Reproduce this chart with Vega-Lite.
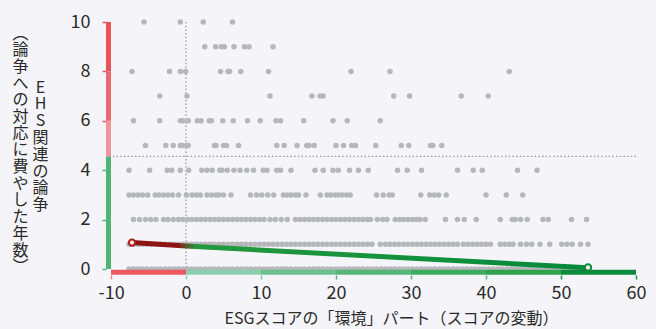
{
 "$schema": "https://vega.github.io/schema/vega-lite/v6.json",
 "width": 525,
 "height": 247,
 "autosize": {"type": "none"},
 "padding": {"left": 111, "top": 22, "right": 20, "bottom": 60},
 "background": "#f5f5f9",
 "config": {"font": "Noto Sans CJK JP", "view": {"stroke": null}},
 "datasets": {
  "pts": [
   {"x":-7.6,"y":0},{"x":-7,"y":0},{"x":-6.4,"y":0},{"x":-5.8,"y":0},{"x":-5.2,"y":0},{"x":-4.6,"y":0},{"x":-4,"y":0},{"x":-3.4,"y":0},{"x":-2.8,"y":0},{"x":-2.2,"y":0},{"x":-1.6,"y":0},{"x":-1,"y":0},{"x":-0.4,"y":0},{"x":0.2,"y":0},{"x":0.8,"y":0},{"x":1.4,"y":0},{"x":2,"y":0},{"x":2.6,"y":0},{"x":3.2,"y":0},{"x":3.8,"y":0},{"x":4.4,"y":0},{"x":5,"y":0},{"x":5.6,"y":0},{"x":6.2,"y":0},{"x":6.8,"y":0},{"x":7.4,"y":0},{"x":8,"y":0},{"x":8.6,"y":0},{"x":9.2,"y":0},{"x":9.8,"y":0},{"x":10.4,"y":0},{"x":11,"y":0},{"x":11.6,"y":0},{"x":12.2,"y":0},{"x":12.8,"y":0},{"x":13.4,"y":0},{"x":14,"y":0},{"x":14.6,"y":0},{"x":15.2,"y":0},{"x":15.8,"y":0},{"x":16.4,"y":0},{"x":17,"y":0},{"x":17.6,"y":0},{"x":18.2,"y":0},{"x":18.8,"y":0},{"x":19.4,"y":0},{"x":20,"y":0},{"x":20.6,"y":0},{"x":21.2,"y":0},{"x":21.8,"y":0},{"x":22.4,"y":0},{"x":23,"y":0},{"x":23.6,"y":0},{"x":24.2,"y":0},{"x":24.8,"y":0},{"x":25.4,"y":0},{"x":26,"y":0},{"x":26.6,"y":0},{"x":27.2,"y":0},{"x":27.8,"y":0},{"x":28.4,"y":0},{"x":29,"y":0},{"x":29.6,"y":0},{"x":30.2,"y":0},{"x":30.8,"y":0},{"x":31.4,"y":0},{"x":32,"y":0},{"x":32.6,"y":0},{"x":33.2,"y":0},{"x":33.8,"y":0},{"x":34.4,"y":0},{"x":35,"y":0},{"x":35.6,"y":0},{"x":36.2,"y":0},{"x":36.8,"y":0},{"x":37.4,"y":0},{"x":38,"y":0},{"x":38.6,"y":0},{"x":39.2,"y":0},{"x":39.8,"y":0},{"x":40.4,"y":0},{"x":41,"y":0},{"x":41.6,"y":0},{"x":42.2,"y":0},{"x":42.8,"y":0},{"x":43.4,"y":0},{"x":44,"y":0},{"x":44.6,"y":0},{"x":45.2,"y":0},{"x":45.8,"y":0},{"x":46.4,"y":0},{"x":47,"y":0},{"x":47.6,"y":0},{"x":48.2,"y":0},{"x":48.8,"y":0},{"x":49.4,"y":0},{"x":50,"y":0},{"x":50.6,"y":0},{"x":51.2,"y":0},{"x":51.8,"y":0},{"x":52.4,"y":0},{"x":53,"y":0},{"x":53.6,"y":0},
   {"x":-7.6,"y":1},{"x":-7,"y":1},{"x":-6.4,"y":1},{"x":-5.8,"y":1},{"x":-5.2,"y":1},{"x":-4.6,"y":1},{"x":-4,"y":1},{"x":-3.4,"y":1},{"x":-2.8,"y":1},{"x":-2.2,"y":1},{"x":-1.6,"y":1},{"x":-1,"y":1},{"x":-0.4,"y":1},{"x":0.2,"y":1},{"x":0.8,"y":1},{"x":1.4,"y":1},{"x":2,"y":1},{"x":2.6,"y":1},{"x":3.2,"y":1},{"x":3.8,"y":1},{"x":4.4,"y":1},{"x":5,"y":1},{"x":5.6,"y":1},{"x":6.2,"y":1},{"x":6.8,"y":1},{"x":7.4,"y":1},{"x":8,"y":1},{"x":8.6,"y":1},{"x":9.2,"y":1},{"x":9.8,"y":1},{"x":10.4,"y":1},{"x":11,"y":1},{"x":11.6,"y":1},{"x":12.2,"y":1},{"x":12.8,"y":1},{"x":13.4,"y":1},{"x":14,"y":1},{"x":14.6,"y":1},{"x":15.2,"y":1},{"x":15.8,"y":1},{"x":16.4,"y":1},{"x":17,"y":1},{"x":17.6,"y":1},{"x":18.2,"y":1},{"x":18.8,"y":1},{"x":19.4,"y":1},{"x":20,"y":1},{"x":20.6,"y":1},{"x":21.2,"y":1},{"x":21.8,"y":1},{"x":22.4,"y":1},{"x":23,"y":1},{"x":23.6,"y":1},{"x":24.2,"y":1},{"x":24.8,"y":1},{"x":25.9,"y":1},{"x":26.6,"y":1},{"x":27.2,"y":1},{"x":27.8,"y":1},{"x":28.4,"y":1},{"x":29,"y":1},{"x":29.6,"y":1},{"x":30.2,"y":1},{"x":30.8,"y":1},{"x":31.4,"y":1},{"x":32,"y":1},{"x":32.6,"y":1},{"x":33.2,"y":1},{"x":33.8,"y":1},{"x":34.4,"y":1},{"x":35,"y":1},{"x":35.6,"y":1},{"x":36.2,"y":1},{"x":37,"y":1},{"x":37.6,"y":1},{"x":38.2,"y":1},{"x":38.8,"y":1},{"x":39.4,"y":1},{"x":40,"y":1},{"x":40.6,"y":1},{"x":41.9,"y":1},{"x":42.5,"y":1},{"x":43.1,"y":1},{"x":43.6,"y":1},{"x":44.6,"y":1},{"x":45.4,"y":1},{"x":46.1,"y":1},{"x":47.2,"y":1},{"x":48.5,"y":1},{"x":50.1,"y":1},{"x":50.8,"y":1},{"x":51.5,"y":1},{"x":52.6,"y":1},{"x":53.6,"y":1},
   {"x":-7,"y":2},{"x":-6.2,"y":2},{"x":-5.4,"y":2},{"x":-4.7,"y":2},{"x":-4,"y":2},{"x":-3,"y":2},{"x":-2.4,"y":2},{"x":-1.7,"y":2},{"x":-1,"y":2},{"x":-0.4,"y":2},{"x":0.2,"y":2},{"x":0.8,"y":2},{"x":1.4,"y":2},{"x":2,"y":2},{"x":2.6,"y":2},{"x":3.2,"y":2},{"x":3.8,"y":2},{"x":4.4,"y":2},{"x":5,"y":2},{"x":5.6,"y":2},{"x":6.2,"y":2},{"x":6.8,"y":2},{"x":7.4,"y":2},{"x":8,"y":2},{"x":8.6,"y":2},{"x":9.2,"y":2},{"x":9.8,"y":2},{"x":10.4,"y":2},{"x":11.2,"y":2},{"x":11.9,"y":2},{"x":12.7,"y":2},{"x":13.5,"y":2},{"x":14.6,"y":2},{"x":15.2,"y":2},{"x":15.8,"y":2},{"x":16.4,"y":2},{"x":17,"y":2},{"x":17.6,"y":2},{"x":18.2,"y":2},{"x":18.8,"y":2},{"x":19.4,"y":2},{"x":20,"y":2},{"x":20.6,"y":2},{"x":21.2,"y":2},{"x":21.8,"y":2},{"x":22.4,"y":2},{"x":23,"y":2},{"x":23.6,"y":2},{"x":24.2,"y":2},{"x":24.6,"y":2},{"x":25.5,"y":2},{"x":26.2,"y":2},{"x":26.8,"y":2},{"x":27.9,"y":2},{"x":28.5,"y":2},{"x":29,"y":2},{"x":29.6,"y":2},{"x":30.2,"y":2},{"x":30.7,"y":2},{"x":31.2,"y":2},{"x":31.9,"y":2},{"x":34.6,"y":2},{"x":36.2,"y":2},{"x":37.1,"y":2},{"x":38.7,"y":2},{"x":41.9,"y":2},{"x":43.5,"y":2},{"x":43.9,"y":2},{"x":44.6,"y":2},{"x":45.5,"y":2},{"x":47.6,"y":2},{"x":48.3,"y":2},{"x":51.4,"y":2},{"x":53.4,"y":2},
   {"x":-7.6,"y":3},{"x":-7,"y":3},{"x":-6.4,"y":3},{"x":-5.8,"y":3},{"x":-5.1,"y":3},{"x":-4.1,"y":3},{"x":-3.6,"y":3},{"x":-3,"y":3},{"x":-2.4,"y":3},{"x":-1.8,"y":3},{"x":-1,"y":3},{"x":0.05,"y":3},{"x":0.8,"y":3},{"x":1.4,"y":3},{"x":1.9,"y":3},{"x":2.8,"y":3},{"x":3.4,"y":3},{"x":4,"y":3},{"x":4.4,"y":3},{"x":5,"y":3},{"x":6,"y":3},{"x":8.6,"y":3},{"x":9.4,"y":3},{"x":10.1,"y":3},{"x":10.9,"y":3},{"x":11.7,"y":3},{"x":13,"y":3},{"x":13.5,"y":3},{"x":14,"y":3},{"x":14.6,"y":3},{"x":15,"y":3},{"x":16,"y":3},{"x":17.9,"y":3},{"x":18.8,"y":3},{"x":19.3,"y":3},{"x":19.9,"y":3},{"x":20.3,"y":3},{"x":20.8,"y":3},{"x":21.4,"y":3},{"x":21.9,"y":3},{"x":25.4,"y":3},{"x":26.3,"y":3},{"x":27.1,"y":3},{"x":27.5,"y":3},{"x":31.3,"y":3},{"x":32.5,"y":3},{"x":33.1,"y":3},{"x":33.7,"y":3},{"x":34.7,"y":3},{"x":40,"y":3},{"x":42.7,"y":3},{"x":44.9,"y":3},
   {"x":-7.6,"y":4},{"x":-4.85,"y":4},{"x":-2.5,"y":4},{"x":-1.9,"y":4},{"x":-0.76,"y":4},{"x":0.35,"y":4},{"x":2.1,"y":4},{"x":2.8,"y":4},{"x":3.5,"y":4},{"x":4.5,"y":4},{"x":4.8,"y":4},{"x":5.5,"y":4},{"x":6.4,"y":4},{"x":7.2,"y":4},{"x":8.1,"y":4},{"x":9,"y":4},{"x":10.3,"y":4},{"x":10.8,"y":4},{"x":12.1,"y":4},{"x":12.6,"y":4},{"x":14,"y":4},{"x":17.2,"y":4},{"x":18.3,"y":4},{"x":19.6,"y":4},{"x":20.3,"y":4},{"x":21.8,"y":4},{"x":23,"y":4},{"x":24.3,"y":4},{"x":28.2,"y":4},{"x":29.5,"y":4},{"x":31.4,"y":4},{"x":36.2,"y":4},{"x":38.3,"y":4},{"x":39.5,"y":4},{"x":44.2,"y":4},{"x":46.8,"y":4},
   {"x":-5.4,"y":5},{"x":-2.7,"y":5},{"x":-1.7,"y":5},{"x":-0.76,"y":5},{"x":-0.5,"y":5},{"x":0.04,"y":5},{"x":0.3,"y":5},{"x":3.8,"y":5},{"x":4,"y":5},{"x":5,"y":5},{"x":5.4,"y":5},{"x":7,"y":5},{"x":12.1,"y":5},{"x":13.1,"y":5},{"x":14.8,"y":5},{"x":16.1,"y":5},{"x":16.4,"y":5},{"x":17.1,"y":5},{"x":20,"y":5},{"x":21,"y":5},{"x":22.1,"y":5},{"x":22.6,"y":5},{"x":25.3,"y":5},{"x":28.7,"y":5},{"x":29.7,"y":5},{"x":32.6,"y":5},{"x":32.9,"y":5},{"x":34.1,"y":5},
   {"x":-7,"y":6},{"x":-3.5,"y":6},{"x":-0.76,"y":6},{"x":-0.4,"y":6},{"x":0.3,"y":6},{"x":1.5,"y":6},{"x":2,"y":6},{"x":3.1,"y":6},{"x":3.4,"y":6},{"x":4.9,"y":6},{"x":6.3,"y":6},{"x":8.2,"y":6},{"x":9.9,"y":6},{"x":12,"y":6},{"x":12.6,"y":6},{"x":15.7,"y":6},{"x":19.6,"y":6},{"x":21.5,"y":6},{"x":25.9,"y":6},
   {"x":-3.5,"y":7},{"x":0.13,"y":7},{"x":11.2,"y":7},{"x":16.8,"y":7},{"x":17.9,"y":7},{"x":18.3,"y":7},{"x":27.7,"y":7},{"x":29.8,"y":7},{"x":36.7,"y":7},{"x":40.3,"y":7},
   {"x":-7.2,"y":8},{"x":-2.2,"y":8},{"x":-0.76,"y":8},{"x":-0.05,"y":8},{"x":4.6,"y":8},{"x":5.6,"y":8},{"x":5.8,"y":8},{"x":7.3,"y":8},{"x":11,"y":8},{"x":22,"y":8},{"x":27.2,"y":8},{"x":43.1,"y":8},
   {"x":2.5,"y":9},{"x":3.95,"y":9},{"x":4.7,"y":9},{"x":5.1,"y":9},{"x":6.4,"y":9},{"x":7.8,"y":9},{"x":8.4,"y":9},{"x":11.6,"y":9},
   {"x":-5.6,"y":10},{"x":-0.76,"y":10},{"x":2.3,"y":10},{"x":6.2,"y":10}
  ],
  "xbar": [
   {"a":-10,"b":0,"c":"x0"},{"a":0,"b":10,"c":"x1"},{"a":10,"b":20,"c":"x2"},{"a":20,"b":30,"c":"x3"},{"a":30,"b":40,"c":"x4"},{"a":40,"b":50,"c":"x5"},{"a":50,"b":60,"c":"x6"}
  ],
  "ybar": [
   {"a":0,"b":4.56,"c":"yg"},{"a":4.56,"b":6,"c":"yp"},{"a":6,"b":8,"c":"yr2"},{"a":8,"b":10,"c":"yr1"}
  ],
  "fit": [
   {"x":-7.2,"y":1.07},{"x":0,"y":0.93},{"x":53.6,"y":0.05}
  ],
  "ends": [
   {"x":-7.2,"y":1.07,"c":"red"},{"x":53.6,"y":0.06,"c":"green"}
  ],
  "vref": [{"x":0}],
  "href": [{"y":4.56}]
 },
 "resolve": {"axis": {"x": "independent", "y": "independent"}},
 "layer": [
  {
   "data": {"name": "vref"},
   "mark": {"type": "rule", "color": "#9a9a9a", "strokeWidth": 1.3, "strokeDash": [1.5, 2.2]},
   "encoding": {
    "x": {"field": "x", "type": "quantitative", "axis": null}
   }
  },
  {
   "data": {"name": "href"},
   "mark": {"type": "rule", "color": "#9a9a9a", "strokeWidth": 1.3, "strokeDash": [1.5, 2.2]},
   "encoding": {
    "y": {"field": "y", "type": "quantitative",
     "axis": {"orient": "left", "labels": false, "ticks": false, "domain": false, "grid": false,
      "title": ["︵","論","争","へ","の","対","応","に","費","や","し","た","年","数","︶"],
      "titleAngle": 0, "titleAlign": "center", "titleBaseline": "top", "titleX": -91, "titleY": 3,
      "titleFontSize": 16, "titleFontWeight": "normal", "titleColor": "#2a2a2a", "titleLineHeight": 16.7}}
   }
  },
  {
   "data": {"name": "pts"},
   "mark": {"type": "circle", "size": 30, "color": "#b6b7bb", "opacity": 1},
   "encoding": {
    "x": {"field": "x", "type": "quantitative",
     "scale": {"domain": [-10, 60], "nice": false, "zero": false},
     "axis": {"orient": "bottom", "values": [-10, 0, 10, 20, 30, 40, 50, 60], "grid": false, "domain": false, "offset": 6,
      "tickSize": 4, "tickWidth": 1.5, "labelFontSize": 18, "labelColor": "#2a2a2a", "labelPadding": 5, "labelFlush": false,
      "labelExpr": "datum.value < 0 ? '-' + abs(datum.value) : '' + datum.value",
      "title": "ESGスコアの「環境」パート（スコアの変動）", "titleFontSize": 16, "titleFontWeight": "normal",
      "titleColor": "#2a2a2a", "titlePadding": 8, "titleX": 280,
      "tickColor": {"condition": [{"test": "datum.value < 0", "value": "#f08a8e"}, {"test": "datum.value < 10", "value": "#8ccfb0"}, {"test": "datum.value < 20", "value": "#7ac79a"}, {"test": "datum.value < 50", "value": "#55b57a"}], "value": "#1a9446"}}},
    "y": {"field": "y", "type": "quantitative",
     "scale": {"domain": [0, 10], "nice": false},
     "axis": {"orient": "left", "values": [0, 2, 4, 6, 8, 10], "grid": false, "domain": false, "offset": 5,
      "tickSize": 4, "tickWidth": 1.5, "labelFontSize": 18, "labelColor": "#2a2a2a", "labelPadding": 12, "labelFlush": false,
      "tickColor": {"condition": {"test": "datum.value > 5", "value": "#e9585f"}, "value": "#52b475"},
      "title": ["E","H","S","関","連","の","論","争"],
      "titleAngle": 0, "titleAlign": "center", "titleBaseline": "top", "titleX": -66, "titleY": 57,
      "titleFontSize": 16, "titleFontWeight": "normal", "titleColor": "#2a2a2a", "titleLineHeight": 16.8}}
   }
  },
  {
   "data": {"name": "xbar"},
   "mark": {"type": "rule", "strokeWidth": 5, "yOffset": 3.2},
   "encoding": {
    "x": {"field": "a", "type": "quantitative", "axis": null},
    "x2": {"field": "b"},
    "y": {"datum": 0, "type": "quantitative", "axis": null},
    "color": {"field": "c", "type": "nominal", "legend": null,
     "scale": {"domain": ["x0","x1","x2","x3","x4","x5","x6","yg","yp","yr2","yr1"],
      "range": ["#ec5a5f","#8ccfb0","#6cc08e","#56b678","#3dab5f","#31a24c","#0a8a3a","#4fb374","#f0949a","#eb6870","#e8525a"]}}
   }
  },
  {
   "data": {"name": "ybar"},
   "mark": {"type": "rule", "strokeWidth": 5, "xOffset": -2.5},
   "encoding": {
    "y": {"field": "a", "type": "quantitative", "axis": null},
    "y2": {"field": "b"},
    "x": {"datum": -10, "type": "quantitative", "axis": null},
    "color": {"field": "c", "type": "nominal", "legend": null,
     "scale": {"domain": ["x0","x1","x2","x3","x4","x5","x6","yg","yp","yr2","yr1"],
      "range": ["#ec5a5f","#8ccfb0","#6cc08e","#56b678","#3dab5f","#31a24c","#0a8a3a","#4fb374","#f0949a","#eb6870","#e8525a"]}}
   }
  },
  {
   "data": {"name": "fit"},
   "mark": {"type": "line", "strokeWidth": 5,
    "stroke": {"gradient": "linear", "x1": 0, "y1": 0, "x2": 1, "y2": 0,
     "stops": [{"offset": 0, "color": "#8e1212"}, {"offset": 0.1, "color": "#8e1414"}, {"offset": 0.14, "color": "#25993f"}, {"offset": 1, "color": "#05893a"}]}},
   "encoding": {
    "x": {"field": "x", "type": "quantitative", "axis": null},
    "y": {"field": "y", "type": "quantitative", "axis": null}
   }
  },
  {
   "data": {"name": "ends"},
   "mark": {"type": "point", "shape": "circle", "size": 40, "strokeWidth": 2, "fill": "#f5f0f0", "fillOpacity": 1, "opacity": 1},
   "encoding": {
    "x": {"field": "x", "type": "quantitative", "axis": null},
    "y": {"field": "y", "type": "quantitative", "axis": null},
    "stroke": {"field": "c", "type": "nominal", "legend": null,
     "scale": {"domain": ["red", "green"], "range": ["#a81c1c", "#0a8a3a"]}}
   }
  }
 ]
}
